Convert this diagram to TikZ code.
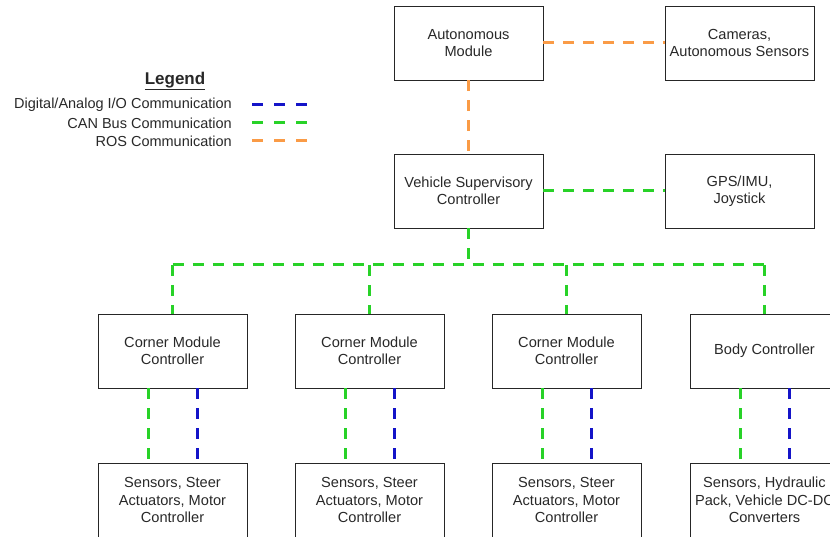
\documentclass[tikz,border=0pt]{standalone}
\usepackage{fontspec}
\setmainfont{Liberation Sans}
\definecolor{dblue}{RGB}{20,20,200}
\definecolor{cgreen}{RGB}{40,210,40}
\definecolor{rorange}{RGB}{250,155,70}
\definecolor{txt}{RGB}{40,40,40}
\tikzset{
  box/.style={draw=black!85, line width=0.9pt, minimum width=149pt, minimum height=74pt, inner sep=2pt, align=center, font=\fontsize{14.6}{17.3}\selectfont, text=txt},
  link/.style={line width=3pt, dash pattern=on 11pt off 9pt},
  legtext/.style={anchor=east, font=\fontsize{14.5}{17}\selectfont, text=txt, inner sep=0pt}
}
\begin{document}
\begin{tikzpicture}[x=1pt,y=-1pt]
\useasboundingbox (0,0) rectangle (830,537);
% top
\node[box] (am) at (468.5,43) {Autonomous\\Module};
\node[box] (cam) at (739.5,43) {Cameras,\\Autonomous Sensors};
\node[box] (vsc) at (468.5,191) {Vehicle Supervisory\\Controller};
\node[box] (gps) at (739.5,191) {GPS/IMU,\\Joystick};
% controllers
\node[box] (c1) at (172.5,351) {Corner Module\\Controller};
\node[box] (c2) at (369.5,351) {Corner Module\\Controller};
\node[box] (c3) at (566.5,351) {Corner Module\\Controller};
\node[box] (c4) at (764.5,351) {Body Controller};
% devices
\node[box] (s1) at (172.5,500) {Sensors, Steer\\Actuators, Motor\\Controller};
\node[box] (s2) at (369.5,500) {Sensors, Steer\\Actuators, Motor\\Controller};
\node[box] (s3) at (566.5,500) {Sensors, Steer\\Actuators, Motor\\Controller};
\node[box] (s4) at (764.5,500) {Sensors, Hydraulic\\Pack, Vehicle DC-DC\\Converters};
% bus
\coordinate (bv) at (468.5,265);
\coordinate (b1) at (172.5,265);
\coordinate (b4) at (764.5,265);
% ROS
\draw[link, rorange] (am.east) -- (cam.west);
\draw[link, rorange] (am.south) -- (vsc.north);
% CAN
\draw[link, cgreen] (vsc.east) -- (gps.west);
\draw[link, cgreen] (vsc.south) -- (bv);
\draw[link, cgreen] (b1) -- (b4);
\foreach \c in {c1,c2,c3,c4}{
  \draw[link, cgreen] (\c.north |- b1) -- (\c.north);
}
\foreach \c/\s in {c1/s1,c2/s2,c3/s3,c4/s4}{
  \draw[link, cgreen] ([xshift=-24.5pt]\c.south) -- ([xshift=-24.5pt]\s.north);
  \draw[link, dblue] ([xshift=24.5pt]\c.south) -- ([xshift=24.5pt]\s.north);
}
% legend
\node[font=\bfseries\fontsize{17}{20}\selectfont, text=txt, inner sep=0pt] (lg) at (175,81) {\underline{Legend}};
\node[legtext] (l1) at (232,105) {Digital/Analog I/O Communication};
\node[legtext] (l2) at (232,123) {CAN Bus Communication};
\node[legtext] (l3) at (232,141) {ROS Communication};
\coordinate (d1s) at (252,105); \coordinate (d1e) at (309,105);
\coordinate (d2s) at (252,123); \coordinate (d2e) at (309,123);
\coordinate (d3s) at (252,141); \coordinate (d3e) at (309,141);
\draw[link, dblue, dash pattern=on 11pt off 11pt] (d1s) -- (d1e);
\draw[link, cgreen, dash pattern=on 11pt off 11pt] (d2s) -- (d2e);
\draw[link, rorange, dash pattern=on 11pt off 11pt] (d3s) -- (d3e);
\end{tikzpicture}
\end{document}
